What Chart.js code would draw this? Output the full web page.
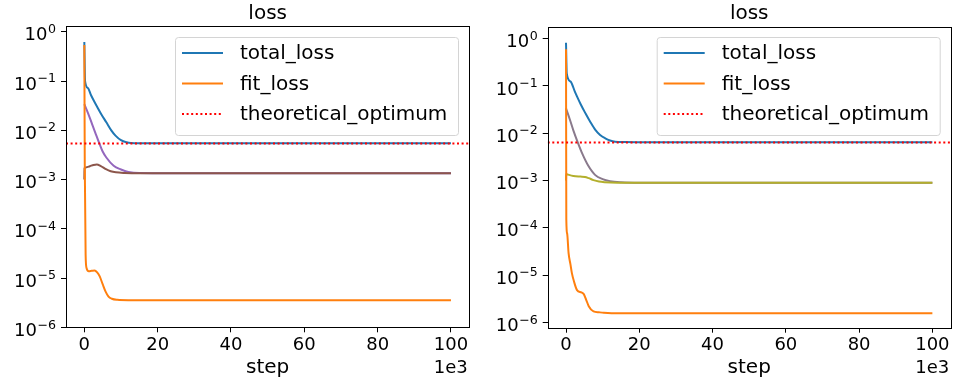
<!DOCTYPE html>
<html>
<head>
<meta charset="utf-8">
<script src="https://cdn.jsdelivr.net/npm/chart.js@4.4.1/dist/chart.umd.min.js"></script>
<style>
  body { margin: 0; background: #fff; width: 955px; height: 385px; overflow: hidden; position: relative; }
  canvas { position: absolute; top: 0; }
  #left { left: 0; }
  #right { left: 480px; }
</style>
</head>
<body>
<canvas id="left" width="480" height="385"></canvas>
<canvas id="right" width="475" height="385"></canvas>
<script>
// steps are in units of 1e3
const xTicks = [0, 20, 40, 60, 80, 100];
const yDecades = [1e-6, 1e-5, 1e-4, 1e-3, 1e-2, 1e-1, 1];
const legendLabels = ['total_loss', 'fit_loss', 'theoretical_optimum'];

// run 1
const leftTotalSteps = [0, 0.2, 1, 1.8, 3, 4.5, 6, 7.3, 8.5, 10, 11.5, 12.7, 14, 16, 20, 100];
const leftTotal = [0.62, 0.1, 0.072, 0.052, 0.035, 0.022, 0.0145, 0.0101, 0.0078, 0.0063, 0.0057, 0.0055, 0.00548, 0.00545, 0.00545, 0.00545];
const leftFitSteps = [0, 0.12, 0.35, 0.6, 1.2, 2.0, 2.8, 3.5, 4.2, 5.0, 5.8, 6.6, 7.5, 9, 12, 100];
const leftFit = [0.54, 2e-3, 3e-5, 1.6e-5, 1.38e-5, 1.4e-5, 1.42e-5, 1.3e-5, 1.08e-5, 7.5e-6, 5.3e-6, 4.2e-6, 3.8e-6, 3.62e-6, 3.56e-6, 3.55e-6];
const leftTermASteps = [0, 1, 2, 3, 4.1, 5, 6, 8, 10, 12, 15, 20, 100];
const leftTermA = [0.034, 0.0224, 0.0141, 0.0089, 0.0054, 0.0037, 0.0028, 0.0019, 0.0016, 0.00143, 0.00135, 0.00134, 0.00134];
const leftTermBSteps = [0, 0.05, 0.4, 1.5, 2.5, 3.4, 4.5, 5.9, 7.2, 8.6, 11, 15, 100];
const leftTermB = [1.0e-3, 1.7e-3, 1.76e-3, 1.86e-3, 1.98e-3, 2.03e-3, 1.88e-3, 1.62e-3, 1.47e-3, 1.4e-3, 1.36e-3, 1.34e-3, 1.34e-3];
const leftOptimum = 5.4e-3;

// run 2
const rightTotalSteps = [0, 0.2, 1.2, 2.5, 4, 5.3, 6.6, 8, 9.3, 10.7, 12, 13.4, 16, 20, 100];
const rightTotal = [0.82, 0.185, 0.125, 0.073, 0.041, 0.0264, 0.0175, 0.0118, 0.0092, 0.0078, 0.007, 0.0066, 0.0065, 0.00645, 0.00645];
const rightFitSteps = [0, 0.08, 0.3, 0.7, 1.2, 1.6, 2.2, 3, 4.2, 4.8, 5.5, 6.2, 7.5, 9, 10.3, 14, 100];
const rightFit = [0.6, 1.5e-4, 7.6e-5, 2.9e-5, 1.7e-5, 1.1e-5, 7.2e-6, 4.8e-6, 4.3e-6, 4.0e-6, 3.0e-6, 2.2e-6, 1.7e-6, 1.63e-6, 1.6e-6, 1.56e-6, 1.55e-6];
const rightTermASteps = [0, 1, 2, 3.2, 4.5, 6, 8, 10, 12, 15, 20, 100];
const rightTermA = [0.0337, 0.02, 0.0115, 0.0064, 0.0036, 0.0021, 0.0013, 0.00107, 0.00097, 0.00092, 0.0009, 0.0009];
const rightTermBSteps = [0, 0.05, 0.6, 2, 3.9, 5.2, 6.2, 7.5, 9, 10.5, 14, 100];
const rightTermB = [1.0e-3, 1.37e-3, 1.33e-3, 1.25e-3, 1.21e-3, 1.19e-3, 1.12e-3, 1.02e-3, 9.5e-4, 9.2e-4, 9.0e-4, 9.0e-4];
const rightOptimum = 6.4e-3;

const FONT = '"DejaVu Sans"';
const pts = (xs, ys) => xs.map((x, i) => ({ x: x, y: ys[i] }));

const line = (label, xs, ys, color, order) => ({
  label: label,
  data: pts(xs, ys),
  borderColor: color,
  borderWidth: 2,
  pointRadius: 0,
  fill: false,
  cubicInterpolationMode: 'monotone',
  order: order
});

const optimumLine = (value) => ({
  label: 'theoretical_optimum',
  data: [{ x: -5, y: value }, { x: 105, y: value }],
  borderColor: '#ff0000',
  borderWidth: 2,
  borderDash: [2, 2.6],
  pointRadius: 0,
  fill: false,
  order: 0
});

// frame, title, y labels with raised exponents, axis label, offset text, legend
const decor = {
  id: 'decor',
  afterDraw(chart, args, opts) {
    const ctx = chart.ctx;
    const a = chart.chartArea;
    const ys = chart.scales.y;
    ctx.save();
    ctx.strokeStyle = '#000';
    ctx.lineWidth = 1;
    ctx.strokeRect(Math.round(a.left) + 0.5, Math.round(a.top) + 0.5,
      Math.round(a.right) - Math.round(a.left), Math.round(a.bottom) - Math.round(a.top));

    ctx.fillStyle = '#000';
    ctx.textBaseline = 'alphabetic';
    yDecades.forEach(v => {
      const y = ys.getPixelForValue(v);
      if (y < a.top - 1 || y > a.bottom + 1) return;
      const e = Math.round(Math.log10(v));
      const sup = e === 0 ? '0' : '\u2212' + (-e);
      const right = a.left - 10;
      ctx.textAlign = 'right';
      ctx.font = '12.6px ' + FONT;
      const sw = ctx.measureText(sup).width;
      ctx.fillText(sup, right, y + 1.2);
      ctx.font = '18px ' + FONT;
      ctx.fillText('10', right - sw - 0.5, y + 8.7);
    });

    const cx = (a.left + a.right) / 2;
    ctx.textAlign = 'center';
    ctx.font = '20px ' + FONT;
    ctx.fillText('loss', cx, 19);
    ctx.fillText('step', cx, 373);
    ctx.textAlign = 'right';
    ctx.font = '18px ' + FONT;
    ctx.fillText('1e3', a.right - 1.5, 373);

    // legend
    const bx = opts.legendLeft, by = 37, bw = 283, bh = 98;
    ctx.beginPath();
    ctx.roundRect(bx + 0.5, by + 0.5, bw, bh, 3);
    ctx.fillStyle = 'rgba(255,255,255,0.8)';
    ctx.fill();
    ctx.strokeStyle = '#d4d4d4';
    ctx.stroke();
    const sets = chart.data.datasets;
    legendLabels.forEach((lab, i) => {
      const ds = sets.find(d => d.label === lab);
      const ry = by + 16 + i * 30.5;
      ctx.beginPath();
      ctx.strokeStyle = ds.borderColor;
      ctx.lineWidth = 2;
      ctx.setLineDash(ds.borderDash || []);
      ctx.moveTo(bx + 7, ry);
      ctx.lineTo(bx + 48, ry);
      ctx.stroke();
      ctx.setLineDash([]);
      ctx.fillStyle = '#000';
      ctx.font = '20px ' + FONT;
      ctx.textAlign = 'left';
      ctx.textBaseline = 'middle';
      ctx.fillText(lab, bx + 65, ry + 1);
    });
    ctx.restore();
  }
};

function makeChart(id, datasets, opt) {
  return new Chart(document.getElementById(id), {
    type: 'line',
    data: { datasets: datasets },
    plugins: [decor],
    options: {
      responsive: false,
      animation: false,
      devicePixelRatio: 1,
      layout: { padding: { left: 0, right: opt.padRight, top: opt.padTop, bottom: 0 } },
      plugins: {
        legend: { display: false },
        tooltip: { enabled: false },
        decor: { legendLeft: opt.legendLeft }
      },
      scales: {
        x: {
          type: 'linear',
          min: -5,
          max: 105,
          afterBuildTicks: s => { s.ticks = xTicks.map(v => ({ value: v })); },
          afterFit: s => { s.height = opt.xHeight; },
          border: { display: false },
          grid: { drawOnChartArea: false, drawTicks: true, tickLength: 5, color: '#000' },
          ticks: { color: '#000', font: { family: 'DejaVu Sans', size: 18 }, padding: 2, maxRotation: 0, autoSkip: false }
        },
        y: {
          type: 'logarithmic',
          min: opt.yMin,
          max: opt.yMax,
          afterBuildTicks: s => { s.ticks = yDecades.map(v => ({ value: v })); },
          afterFit: s => { s.width = opt.yWidth; },
          border: { display: false },
          grid: { drawOnChartArea: false, drawTicks: true, tickLength: 5, color: '#000' },
          ticks: { display: false }
        }
      }
    }
  });
}

makeChart('left', [
  optimumLine(leftOptimum),
  line('fit_loss', leftFitSteps, leftFit, '#ff7f0e', 1),
  line('term_b', leftTermBSteps, leftTermB, '#8c564b', 2),
  line('term_a', leftTermASteps, leftTermA, '#9467bd', 3),
  line('total_loss', leftTotalSteps, leftTotal, '#1f77b4', 4)
], { padRight: 10.7, padTop: 26, xHeight: 57.7, yWidth: 66, yMin: 1e-6, yMax: 1.31, legendLeft: 175 });

makeChart('right', [
  optimumLine(rightOptimum),
  line('fit_loss', rightFitSteps, rightFit, '#ff7f0e', 1),
  line('term_b', rightTermBSteps, rightTermB, '#b3af2c', 2),
  line('term_a', rightTermASteps, rightTermA, '#8a7a8c', 3),
  line('total_loss', rightTotalSteps, rightTotal, '#1f77b4', 4)
], { padRight: 4.3, padTop: 26.7, xHeight: 57.3, yWidth: 67.7, yMin: 7.7e-7, yMax: 1.79, legendLeft: 176.7 });
</script>
</body>
</html>
